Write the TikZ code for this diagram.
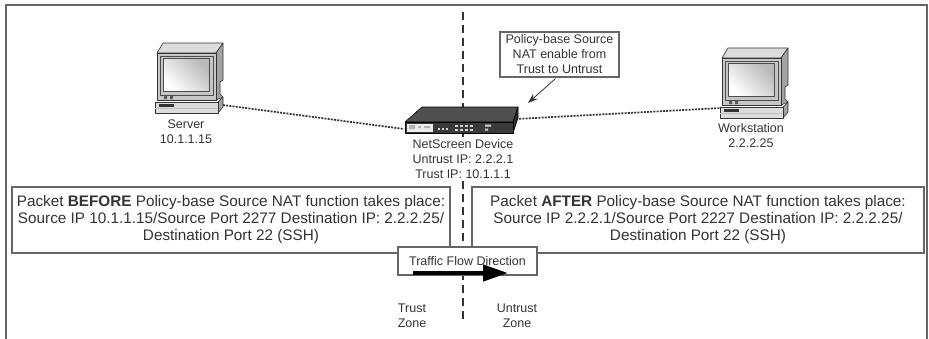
\documentclass[tikz,border=0pt]{standalone}
\usepackage{fontspec}
\setmainfont{Liberation Sans}
\usetikzlibrary{arrows.meta}
\definecolor{ink}{HTML}{333333}
\definecolor{boxline}{HTML}{666666}
\definecolor{caselight}{HTML}{C8C8C8}
\definecolor{casetop}{HTML}{DCDCDC}
\definecolor{caseside}{HTML}{A2A2A2}
\definecolor{devtop}{HTML}{505050}
\definecolor{devfront}{HTML}{3A3A3A}
\definecolor{devside}{HTML}{2B2B2B}

\tikzset{
  labeltext/.style={text=ink, font=\fontsize{12.5}{15}\selectfont, align=center, inner sep=1pt},
  infobox/.style={draw=boxline, line width=1.2pt, fill=white, text=ink, align=center, inner sep=0pt},
  bigbox/.style={infobox, minimum height=66pt, font=\fontsize{15.3}{17}\selectfont},
  link/.style={ink, line width=1.7pt, dash pattern=on 2pt off 1.2pt},
  zoneline/.style={ink, line width=1.7pt, dash pattern=on 8pt off 5pt},
}

% monitor with base unit, origin at the front face's top left corner
\newcommand{\pcicon}[1]{
  \begin{scope}[shift={#1}, draw=ink, line width=0.6pt, line join=round]
    \filldraw[fill=casetop] (0,0) -- (6,-10) -- (66,-10) -- (59,0) -- cycle;
    \filldraw[fill=caseside] (59,0) -- (66,-10) -- (66,27) -- (63,29) -- (63,41) -- (66,44) -- (59,47) -- cycle;
    \filldraw[fill=caselight] (0,0) rectangle (59,47);
    \filldraw[fill=gray!45, draw=gray!60!black] (3,3) rectangle (56,42);
    \shade[shading=axis, left color=white, right color=gray!55, shading angle=135] (6,5) rectangle (52,38);
    \draw[gray!60!black] (6,5) rectangle (52,38);
    \fill[gray!70!black] (7,43) rectangle (10,46) (13,43) rectangle (16,46);
    \filldraw[fill=caseside] (61,49) -- (66,44) -- (66,54) -- (61,60) -- cycle;
    \filldraw[fill=casetop] (-2,49) rectangle (61,60);
    \draw[gray!50] (-2,55) -- (61,55);
    \fill[ink] (2,51) rectangle (17,53.5);
  \end{scope}
}

\begin{document}
\begin{tikzpicture}[x=1pt, y=-1pt]
  \useasboundingbox (0,0) rectangle (929,338);
  \draw[boxline, line width=2pt] (6,340) -- (6,5) -- (927,5) -- (927,340);

  \draw[zoneline] (463,12) -- (463,322);

  % end points of the cabling
  \coordinate (serverport) at (223,105);
  \coordinate (devleft) at (404,129);
  \coordinate (devright) at (516,119);
  \coordinate (wsport) at (721,108);
  \coordinate (devtip) at (528,103);

  \draw[link] (serverport) -- (devleft);
  \draw[link] (devright) -- (wsport);

  \pcicon{(157,53)}
  \pcicon{(722,58)}

  % firewall box
  \begin{scope}[shift={(405,122)}, draw=black, line width=0.6pt, line join=round]
    \filldraw[fill=devtop] (0,0) -- (17,-15) -- (113,-15) -- (108,0) -- cycle;
    \filldraw[fill=devside] (108,0) -- (113,-15) -- (113,-4) -- (108,11) -- cycle;
    \filldraw[fill=devfront] (0,0) rectangle (108,11);
    \fill[gray!15] (1.5,1.5) rectangle (28,9.5);
    \fill[gray!60] (4,3) rectangle (10,7) (13,4) rectangle (16,6) (19,4) rectangle (25,6);
    \foreach \px in {33,37,41} \fill[gray!30] (\px,6) rectangle +(2,1.5);
    \foreach \px in {50,55,60,65} {
      \fill[gray!35] (\px,2.5) rectangle +(2.5,2);
      \fill[gray!35] (\px,6.5) rectangle +(2.5,2);
    }
    \fill[gray!30] (80,2.5) rectangle +(6,2) (80,6.5) rectangle +(3,2);
  \end{scope}

  \node[labeltext] (serverlbl) at (186,132) {Server\\10.1.1.15};
  \node[labeltext] (wslbl) at (751,136) {Workstation\\2.2.2.25};
  \node[labeltext, fill=white, inner sep=0pt] (devlbl) at (463,159) {NetScreen Device\\Untrust IP: 2.2.2.1\\Trust IP: 10.1.1.1};

  \node[infobox, labeltext, draw=boxline, minimum width=119pt, minimum height=45pt, inner sep=0pt] (policy) at (559.5,54.5)
    {Policy-base Source\\NAT enable from\\Trust to Untrust};
  \draw[ink, line width=0.8pt, -{Stealth[length=10pt,width=7pt]}] (policy.south) ++(-4,1) -- (devtip);

  \node[bigbox, minimum width=438pt] (before) at (231,220)
    {Packet \textbf{BEFORE} Policy-base Source NAT function takes place:\\
     Source IP 10.1.1.15/Source Port 2277 Destination IP: 2.2.2.25/\\
     Destination Port 22 (SSH)};
  \node[bigbox, minimum width=452pt] (after) at (698,220)
    {Packet \textbf{AFTER} Policy-base Source NAT function takes place:\\
     Source IP 2.2.2.1/Source Port 2227 Destination IP: 2.2.2.25/\\
     Destination Port 22 (SSH)};

  \node[infobox, labeltext, fill=white, draw=boxline, minimum width=139pt, minimum height=28pt, inner sep=0pt] (traffic) at (467.5,261)
    {Traffic Flow Direction};
  \coordinate (flowstart) at (413,273);
  \coordinate (flowend) at (508,273);
  \draw[black, line width=4.5pt, -{Triangle[length=25pt,width=16pt]}] (flowstart) -- (flowend);

  \node[labeltext] (trustzone) at (412,315.5) {Trust\\Zone};
  \node[labeltext] (untrustzone) at (517,315.5) {Untrust\\Zone};
\end{tikzpicture}
\end{document}
